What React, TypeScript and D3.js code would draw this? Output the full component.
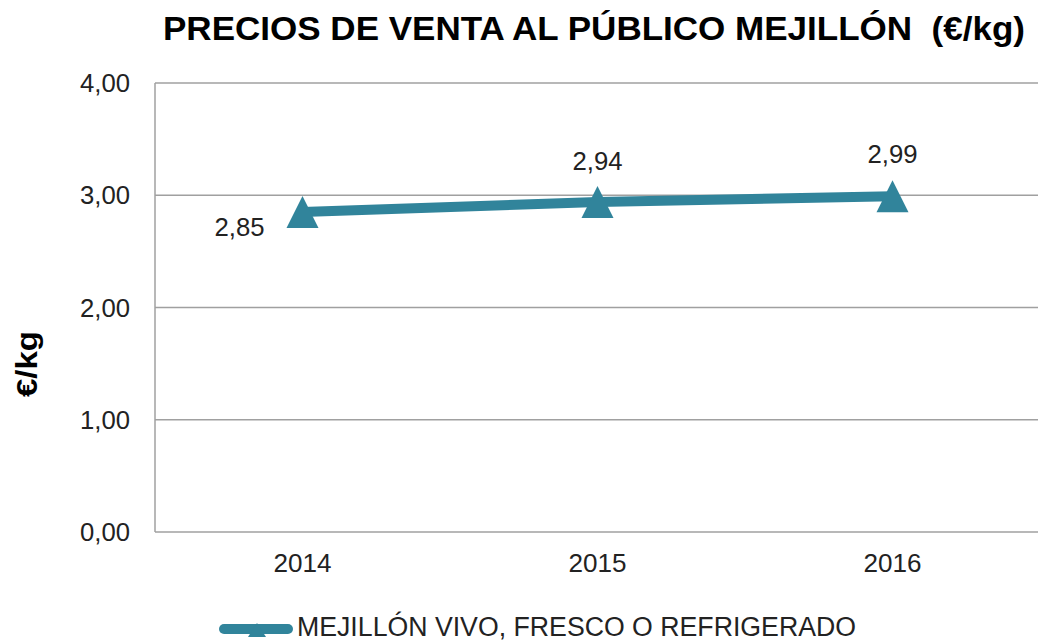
import { useRef, useEffect } from 'react';
import * as d3 from 'd3';

const years = ['2014', '2015', '2016'];
const prices = [2.85, 2.94, 2.99];
const yTicks = [0, 1, 2, 3, 4];
const seriesName = 'MEJILLÓN VIVO, FRESCO O REFRIGERADO';
const title = 'PRECIOS DE VENTA AL PÚBLICO MEJILLÓN  (€/kg)';

const W = 1038;
const H = 644;
const color = '#31849B';
const font = '"Liberation Sans", Arial, sans-serif';

export default function App() {
  const svgRef = useRef<SVGSVGElement>(null);

  useEffect(() => {
    const svg = d3.select(svgRef.current);
    svg.selectAll('*').remove();

    const left = 155;
    const right = 1040;
    const top = 83;
    const bottom = 532;

    const x = d3.scaleBand().domain(years).range([left, right]);
    const y = d3.scaleLinear().domain([0, 4]).range([bottom, top]);
    const fmt = (v: number) => v.toFixed(2).replace('.', ',');

    // gridlines
    svg
      .append('g')
      .selectAll('line')
      .data(yTicks)
      .enter()
      .append('line')
      .attr('x1', left)
      .attr('x2', W)
      .attr('y1', d => y(d))
      .attr('y2', d => y(d))
      .attr('stroke', '#a0a0a0')
      .attr('stroke-width', 1.5);

    // y axis line
    svg
      .append('line')
      .attr('x1', left)
      .attr('x2', left)
      .attr('y1', top)
      .attr('y2', bottom)
      .attr('stroke', '#a0a0a0')
      .attr('stroke-width', 1.5);

    // y tick labels
    svg
      .append('g')
      .selectAll('text')
      .data(yTicks)
      .enter()
      .append('text')
      .attr('x', 130)
      .attr('y', d => y(d) + 9)
      .attr('text-anchor', 'end')
      .attr('textLength', 50)
      .attr('lengthAdjust', 'spacingAndGlyphs')
      .style('font-family', font)
      .style('font-size', '26px')
      .style('fill', '#222')
      .text(d => fmt(d));

    // x labels
    svg
      .append('g')
      .selectAll('text')
      .data(years)
      .enter()
      .append('text')
      .attr('x', d => x(d)! + x.bandwidth() / 2)
      .attr('y', 572)
      .attr('text-anchor', 'middle')
      .attr('textLength', 58)
      .attr('lengthAdjust', 'spacingAndGlyphs')
      .style('font-family', font)
      .style('font-size', '26px')
      .style('fill', '#222')
      .text(d => d);

    const pts = years.map((yr, i) => [x(yr)! + x.bandwidth() / 2, y(prices[i])] as [number, number]);

    svg
      .append('path')
      .attr('d', d3.line()(pts))
      .attr('fill', 'none')
      .attr('stroke', color)
      .attr('stroke-width', 10)
      .attr('stroke-linecap', 'round');

    svg
      .append('g')
      .selectAll('path')
      .data(pts)
      .enter()
      .append('path')
      .attr('d', 'M0,-16L16,16L-16,16Z')
      .attr('transform', d => `translate(${d[0]},${d[1]})`)
      .attr('fill', color);

    // data labels
    const labelPos = [
      [-63, 24],
      [0, -32],
      [0, -33],
    ];
    svg
      .append('g')
      .selectAll('text')
      .data(pts)
      .enter()
      .append('text')
      .attr('x', (d, i) => d[0] + labelPos[i][0])
      .attr('y', (d, i) => d[1] + labelPos[i][1])
      .attr('text-anchor', 'middle')
      .attr('textLength', 50)
      .attr('lengthAdjust', 'spacingAndGlyphs')
      .style('font-family', font)
      .style('font-size', '26px')
      .style('fill', '#222')
      .text((d, i) => fmt(prices[i]));

    // title
    svg
      .append('text')
      .attr('x', 594)
      .attr('y', 40)
      .attr('text-anchor', 'middle')
      .attr('textLength', 862)
      .attr('lengthAdjust', 'spacingAndGlyphs')
      .style('font-family', font)
      .style('font-size', '34px')
      .style('font-weight', 'bold')
      .style('white-space', 'pre')
      .text(title);

    // y axis title
    svg
      .append('text')
      .attr('transform', 'translate(37,364) rotate(-90)')
      .attr('text-anchor', 'middle')
      .attr('textLength', 66)
      .attr('lengthAdjust', 'spacingAndGlyphs')
      .style('font-family', font)
      .style('font-size', '30px')
      .style('font-weight', 'bold')
      .text('€/kg');

    // legend
    svg
      .append('line')
      .attr('x1', 224)
      .attr('x2', 288)
      .attr('y1', 629)
      .attr('y2', 629)
      .attr('stroke', color)
      .attr('stroke-width', 10)
      .attr('stroke-linecap', 'round');
    svg
      .append('path')
      .attr('d', 'M0,-7L9,7L-9,7Z')
      .attr('transform', 'translate(257,630)')
      .attr('fill', color);
    svg
      .append('text')
      .attr('x', 297)
      .attr('y', 636)
      .attr('textLength', 559)
      .attr('lengthAdjust', 'spacingAndGlyphs')
      .style('font-family', font)
      .style('font-size', '27px')
      .style('fill', '#222')
      .text(seriesName);
  }, []);

  return (
    <svg
      ref={svgRef}
      width={W}
      height={H}
      style={{ position: 'absolute', left: 0, top: 0, background: '#fff' }}
    />
  );
}
